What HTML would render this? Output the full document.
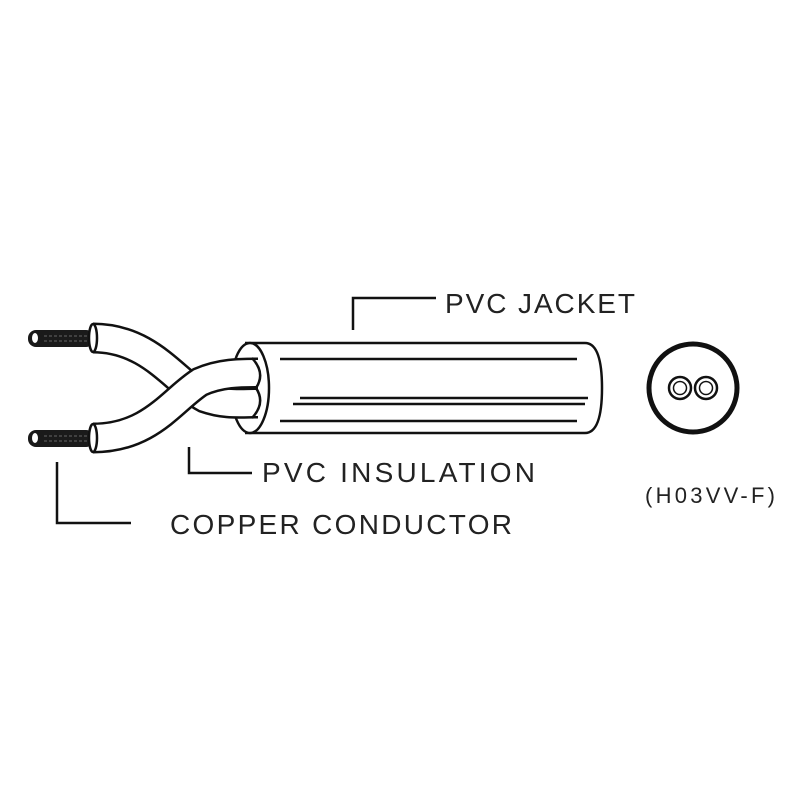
<!DOCTYPE html>
<html><head><style>body{margin:0;background:#fff}svg{display:block}</style></head>
<body>
<svg width="800" height="800" viewBox="0 0 800 800" xmlns="http://www.w3.org/2000/svg">
<rect width="800" height="800" fill="#fff"/>
<g stroke="#111" stroke-width="2.5" fill="none">
<path d="M245,343 H585 Q602,343 602,388 Q602,433 585,433 H245" fill="#fff"/>
<line x1="280" y1="359" x2="577" y2="359"/>
<line x1="300" y1="398" x2="588" y2="398"/>
<line x1="293" y1="404" x2="585" y2="404"/>
<line x1="280" y1="421" x2="577" y2="421"/>
<ellipse cx="250" cy="388" rx="19" ry="45" fill="#fff"/>
</g>
<g>
<rect x="28" y="330" width="66" height="17" rx="8" fill="#1a1a1a"/>
<rect x="28" y="430" width="66" height="17" rx="8" fill="#1a1a1a"/>
<ellipse cx="35" cy="338" rx="3" ry="5" fill="#fff"/>
<ellipse cx="35" cy="438" rx="3" ry="5" fill="#fff"/>
<path d="M44,336 H88 M44,341 H88 M44,436 H88 M44,441 H88" stroke="#666" stroke-width="1" stroke-dasharray="3,2"/>
</g>
<path d="M93,338 C150,338 175,382 205,398 C225,405 240,403 258,403" stroke="#111" stroke-width="31" fill="none"/>
<path d="M93,338 C150,338 175,382 205,398 C225,405 240,403 258,403" stroke="#fff" stroke-width="26" fill="none"/>
<path d="M93,438 C150,438 172,400 200,382 C220,373 240,373 258,373" stroke="#111" stroke-width="31" fill="none"/>
<path d="M93,438 C150,438 172,400 200,382 C220,373 240,373 258,373" stroke="#fff" stroke-width="26" fill="none"/>
<g stroke="#111" stroke-width="2.5" fill="none">
<path d="M252,358 Q266,373 256,388 Q266,403 252,418"/>
<ellipse cx="93" cy="338" rx="4" ry="14" fill="#fff"/>
<ellipse cx="93" cy="438" rx="4" ry="14" fill="#fff"/>
<path d="M353,330 V298 H436"/>
<path d="M189,447 V473 H252"/>
<path d="M57,462 V523 H131"/>
<circle cx="693" cy="388" r="44" stroke-width="5"/>
<circle cx="680" cy="388" r="11"/>
<circle cx="706" cy="388" r="11"/>
<circle cx="680" cy="388" r="6.5" stroke-width="1.5"/>
<circle cx="706" cy="388" r="6.5" stroke-width="1.5"/>
</g>
<g font-family="Liberation Sans, sans-serif" fill="#222">
<text x="445" y="313" font-size="28" textLength="190">PVC JACKET</text>
<text x="262" y="482" font-size="28" textLength="273">PVC INSULATION</text>
<text x="170" y="534" font-size="28" textLength="342">COPPER CONDUCTOR</text>
<text x="645" y="503" font-size="22" textLength="130">(H03VV-F)</text>
</g>
</svg>
</body></html>
